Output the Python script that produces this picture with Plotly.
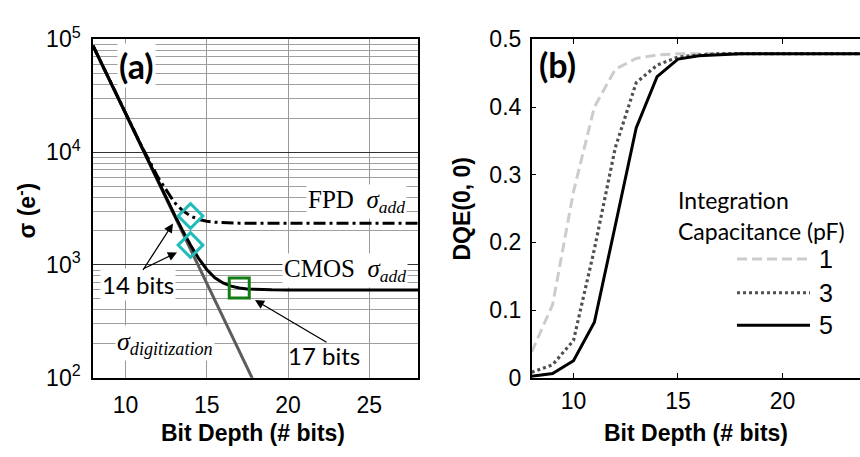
import plotly.graph_objects as go

# ---------------- data: panel (a) noise vs. bit depth ----------------
bits = [8, 9, 10, 11, 12, 13, 13.5, 14, 14.5, 15, 15.5, 16, 16.5, 17, 17.5, 18,
        19, 20, 21, 22, 23, 24, 25, 26, 27, 28]
sigma_cmos = [88000, 44000, 22010, 11020, 5533, 2815, 2034, 1500, 1143, 912, 769, 692,
              648, 624, 612, 606, 601, 600, 600, 600, 600, 600, 600, 600, 600, 600]
sigma_fpd = [88031, 44062, 22124, 11246, 5977, 3593, 3045, 2714, 2530, 2439, 2390, 2365,
             2352, 2346, 2343, 2342, 2340, 2340, 2340, 2340, 2340, 2340, 2340, 2340, 2340, 2340]
bits_dig = [8, 9, 10, 11, 12, 13, 13.5, 14, 14.5, 15, 15.5, 16, 16.5, 17, 17.5, 18]
sigma_digitization = [88000, 44000, 22000, 11000, 5500, 2750, 1945, 1375, 972, 688,
                      486, 344, 243, 172, 122, 86]

# operating points: 14 bits (FPD and CMOS), 17 bits (CMOS)
bits_14 = [14, 14]
sigma_14 = [2714, 1500]
bits_17 = [17]
sigma_17 = [624]

a_xticks = [10, 15, 20, 25]
a_yticks = [100, 1000, 10000, 100000]
a_yticktext = ["10<sup>2</sup>", "10<sup>3</sup>", "10<sup>4</sup>", "10<sup>5</sup>"]

# ---------------- data: panel (b) DQE vs. bit depth ----------------
dqe_bits = [8, 9, 10, 11, 12, 13, 14, 15, 16, 17, 18, 19, 20, 21, 22, 23, 24, 25, 26, 27, 28]
dqe_1pF = [0.038, 0.108, 0.275, 0.400, 0.456, 0.472, 0.477, 0.479, 0.479, 0.479, 0.479,
           0.479, 0.479, 0.479, 0.479, 0.479, 0.479, 0.479, 0.479, 0.479, 0.479]
dqe_3pF = [0.008, 0.019, 0.055, 0.190, 0.340, 0.436, 0.462, 0.474, 0.477, 0.479, 0.479,
           0.479, 0.479, 0.479, 0.479, 0.479, 0.479, 0.479, 0.479, 0.479, 0.479]
dqe_5pF = [0.002, 0.006, 0.025, 0.082, 0.225, 0.369, 0.445, 0.471, 0.476, 0.478, 0.479,
           0.479, 0.479, 0.479, 0.479, 0.479, 0.479, 0.479, 0.479, 0.479, 0.479]
cap_labels = ["1", "3", "5"]

b_xticks = [10, 15, 20, 25]
b_yticks = [0, 0.1, 0.2, 0.3, 0.4, 0.5]
b_yticktext = ["0", "0.1", "0.2", "0.3", "0.4", "0.5"]

W, H = 860, 457


def px(x, y):
    """Pixel position -> paper coordinates."""
    return x / W, 1 - y / H


SANS = "Liberation Sans, Arial, sans-serif"
SERIF = "Liberation Serif, Times New Roman, serif"
HUMAN = "Lato, Open Sans, sans-serif"

fig = go.Figure()

# panel (a)
fig.add_trace(go.Scatter(x=bits_dig, y=sigma_digitization, mode="lines",
                         line=dict(color="#5c5c5c", width=3), xaxis="x", yaxis="y",
                         showlegend=False))
fig.add_trace(go.Scatter(x=bits, y=sigma_fpd, mode="lines",
                         line=dict(color="black", width=3, dash="12px,4px,3px,4px"),
                         xaxis="x", yaxis="y", showlegend=False))
fig.add_trace(go.Scatter(x=bits, y=sigma_cmos, mode="lines",
                         line=dict(color="black", width=3), xaxis="x", yaxis="y",
                         showlegend=False))
fig.add_trace(go.Scatter(x=bits_14, y=sigma_14, mode="markers",
                         marker=dict(symbol="diamond-open", size=19, color="#20bcbc",
                                     line=dict(width=3, color="#20bcbc")),
                         xaxis="x", yaxis="y", showlegend=False, cliponaxis=False))
fig.add_trace(go.Scatter(x=bits_17, y=sigma_17, mode="markers",
                         marker=dict(symbol="square-open", size=20, color="#137d13",
                                     line=dict(width=3, color="#137d13")),
                         xaxis="x", yaxis="y", showlegend=False, cliponaxis=False))

# panel (b)
fig.add_trace(go.Scatter(x=dqe_bits, y=dqe_1pF, mode="lines", name=cap_labels[0],
                         line=dict(color="#cccccc", width=3, dash="10px,5px"),
                         xaxis="x2", yaxis="y2", showlegend=False))
fig.add_trace(go.Scatter(x=dqe_bits, y=dqe_3pF, mode="lines", name=cap_labels[1],
                         line=dict(color="#505050", width=3.2, dash="3px,3px"),
                         xaxis="x2", yaxis="y2", showlegend=False))
fig.add_trace(go.Scatter(x=dqe_bits, y=dqe_5pF, mode="lines", name=cap_labels[2],
                         line=dict(color="black", width=3),
                         xaxis="x2", yaxis="y2", showlegend=False))

y_dom = [1 - 386 / H, 1 - 24 / H]
tickfont = dict(family=SANS, size=23, color="black")

fig.update_layout(
    width=W, height=H,
    margin=dict(l=0, r=0, t=0, b=0),
    paper_bgcolor="white", plot_bgcolor="white",
    xaxis=dict(domain=[93 / W, 418 / W], range=[8, 28], tickvals=a_xticks,
               showgrid=True, gridcolor="#9a9a9a", gridwidth=1,
               showline=True, linecolor="black", linewidth=1.5, mirror=True,
               ticks="", tickfont=tickfont, ticklabelstandoff=6, anchor="y",
               zeroline=False),
    yaxis=dict(domain=y_dom, type="log", range=[2, 5], tickvals=a_yticks,
               ticktext=a_yticktext, showgrid=True, gridcolor="#333333", gridwidth=1,
               minor=dict(dtick="D1", showgrid=True, gridcolor="#a0a0a0", gridwidth=1,
                          ticks=""),
               showline=True, linecolor="black", linewidth=1.5, mirror=True,
               ticks="", tickfont=tickfont, ticklabelstandoff=6, anchor="x"),
    xaxis2=dict(domain=[531.7 / W, 1.0], range=[8, 23.71], tickvals=b_xticks,
                showgrid=False, showline=True, linecolor="black", linewidth=1.5,
                mirror="ticks", ticks="inside", ticklen=5, tickcolor="black",
                tickfont=tickfont, ticklabelstandoff=2, anchor="y2", zeroline=False),
    yaxis2=dict(domain=y_dom, range=[0, 0.5], tickvals=b_yticks, ticktext=b_yticktext,
                showgrid=False, showline=True, linecolor="black", linewidth=1.5,
                mirror=False, ticks="inside", ticklen=5, tickcolor="black",
                tickfont=tickfont, ticklabelstandoff=4, anchor="x2", zeroline=False),
)

annotations = []


def label(x, y, text, font, bg="white", **kw):
    px_x, px_y = px(x, y)
    d = dict(x=px_x, y=px_y, xref="paper", yref="paper", text=text, showarrow=False,
             font=font, xanchor="center", yanchor="middle", borderpad=1)
    if bg:
        d["bgcolor"] = bg
    d.update(kw)
    annotations.append(d)


def arrow(hx, hy, tx, ty):
    p_x, p_y = px(hx, hy)
    annotations.append(dict(x=p_x, y=p_y, xref="paper", yref="paper", text="",
                            showarrow=True, ax=tx - hx, ay=ty - hy, arrowhead=2,
                            arrowsize=1.4, arrowwidth=1.3, arrowcolor="black",
                            standoff=0, startstandoff=0))


# panel (a) labels
label(136, 52, "<b>(a)</b>", dict(family=HUMAN, size=34, color="black"))
label(356, 197, "FPD  <i>σ<sub>add</sub></i>", dict(family=SERIF, size=25, color="black"))
label(345, 271, "CMOS  <i>σ<sub>add</sub></i>", dict(family=SERIF, size=25, color="black"))
label(138, 286, "14 bits", dict(family=HUMAN, size=24, color="black"))
label(165, 349, "<i>σ<sub>digitization</sub></i>", dict(family=SERIF, size=26, color="black"))
label(324, 362, "17 bits", dict(family=HUMAN, size=24, color="black"), bg=None)
arrow(173, 221, 142, 269)
arrow(177, 252, 142, 269)
arrow(255, 303, 328, 346)

# axis titles
title_font = dict(family=SANS, size=23, color="black")
label(253, 445, "<b>Bit Depth (# bits)</b>", title_font, bg=None)
label(696, 445, "<b>Bit Depth (# bits)</b>", title_font, bg=None)
label(26, 207, "<b>σ (e<sup>-</sup>)</b>", title_font, bg=None, textangle=-90)
label(462, 205, "<b>DQE(0, 0)</b>", title_font, bg=None, textangle=-90)

# panel (b) labels and capacitance key
label(557, 51, "<b>(b)</b>", dict(family=HUMAN, size=34, color="black"), bg=None)
label(676, 196, "Integration", dict(family=HUMAN, size=23, color="black"), bg=None,
      xanchor="left")
label(676, 229, "Capacitance (pF)", dict(family=HUMAN, size=23, color="black"), bg=None,
      xanchor="left")

key_styles = [("#cccccc", "10px,5px"), ("#505050", "3px,3px"), ("black", "solid")]
key_rows = [259, 295, 330]
shapes = []
for (col, dash), row, txt in zip(key_styles, key_rows, cap_labels):
    x0, y0 = px(737, row)
    x1, _ = px(810, row)
    shapes.append(dict(type="line", xref="paper", yref="paper", x0=x0, x1=x1, y0=y0, y1=y0,
                       line=dict(color=col, width=3, dash=dash)))
    label(826, row, txt, dict(family=SANS, size=25, color="black"), bg=None)

fig.update_layout(annotations=annotations, shapes=shapes)

fig.write_html("out.html")
